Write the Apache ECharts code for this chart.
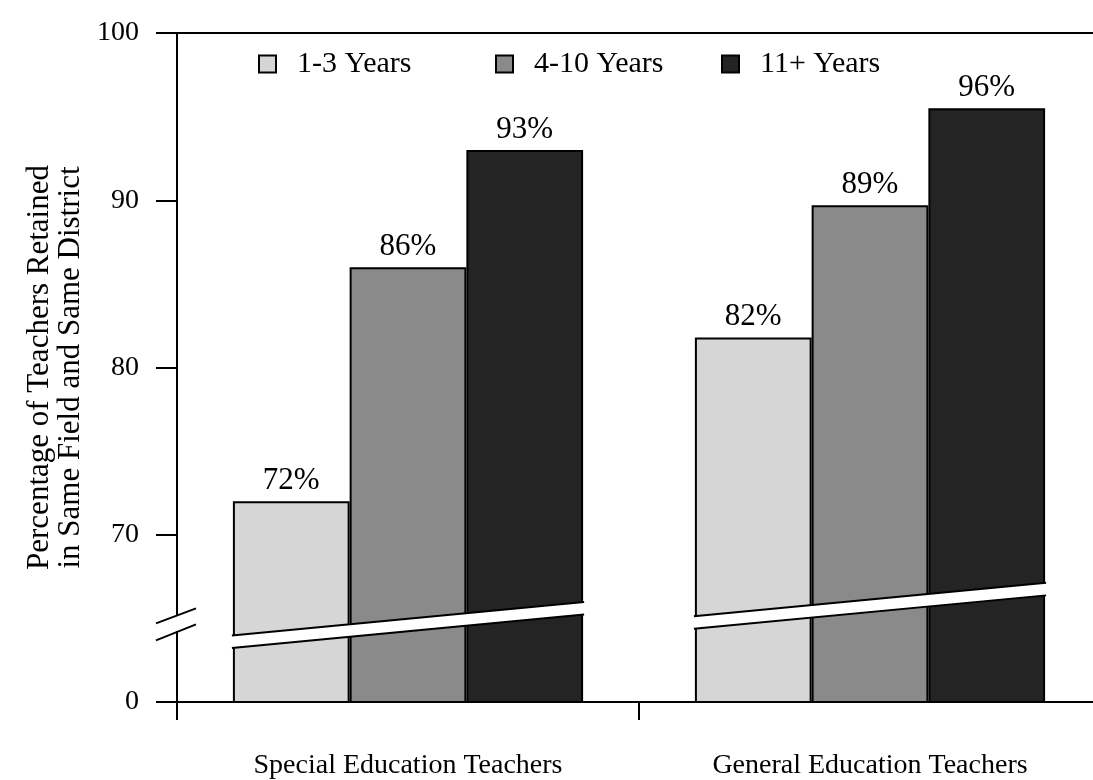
<!DOCTYPE html>
<html><head><meta charset="utf-8">
<script src="https://cdn.jsdelivr.net/npm/echarts@6/dist/echarts.min.js"></script>
<style>html,body{margin:0;padding:0;background:#fff;overflow:hidden;width:1093px;height:780px}#c{width:1101px;height:780px}</style>
</head><body><div id="c"></div>
<script>
// ---- data ----
const categories = ['Special Education Teachers', 'General Education Teachers'];
const seriesNames = ['1-3 Years', '4-10 Years', '11+ Years'];
const years1to3 = [72, 81.8];
const years4to10 = [86, 89.7];
const years11plus = [93, 95.5];
const labels1to3 = ['72%', '82%'];
const labels4to10 = ['86%', '89%'];
const labels11plus = ['93%', '96%'];
const yTickValues = [60, 70, 80, 90, 100];
const yTickLabels = ['0', '70', '80', '90', '100'];
// broken-scale band drawn across each bar group (value at group's left / right edge)
const breakLeft = [63.6, 64.75];
const breakRight = [65.6, 66.75];
const breakGap = 0.75;
const axisBreakValue = 64.7;

const FONT = '"Liberation Serif", "Times New Roman", serif';
const colors = ['#d6d6d6', '#8a8a8a', '#242424'];
const values = [years1to3, years4to10, years11plus];
const labelSets = [labels1to3, labels4to10, labels11plus];
const catGap = 0.242;

const chart = echarts.init(document.getElementById('c'));
const legendLeft = [253, 490, 716];

const option = {
  animation: false,
  backgroundColor: '#fff',
  grid: { left: 177, top: 33, right: 0, bottom: 73, containLabel: false },
  legend: seriesNames.map((n, i) => ({
    data: [n], left: legendLeft[i], top: 44, icon: 'rect',
    itemWidth: 17, itemHeight: 17,
    itemStyle: { borderColor: '#000', borderWidth: 2 },
    textStyle: { fontFamily: FONT, fontSize: 30, color: '#000', padding: [0, 0, 0, 16] }
  })),
  xAxis: [{
    type: 'category', data: categories, position: 'bottom',
    axisLine: { lineStyle: { color: '#000', width: 2 } },
    axisTick: { show: true, length: 18, lineStyle: { color: '#000', width: 2 } },
    axisLabel: { fontFamily: FONT, fontSize: 28, color: '#000', margin: 50 }
  }, {
    type: 'category', data: categories, position: 'top',
    axisLine: { lineStyle: { color: '#000', width: 2 } },
    axisTick: { show: false }, axisLabel: { show: false }
  }],
  yAxis: {
    type: 'value', min: 60, max: 100, interval: 10,
    name: 'Percentage of Teachers Retained\nin Same Field and Same District',
    nameLocation: 'middle', nameGap: 69,
    nameTextStyle: { fontFamily: FONT, fontSize: 31, color: '#000', lineHeight: 31 },
    axisLine: { show: true, lineStyle: { color: '#000', width: 2 } },
    axisTick: { show: true, length: 21, lineStyle: { color: '#000', width: 2 } },
    splitLine: { show: false },
    axisLabel: {
      fontFamily: FONT, fontSize: 28, color: '#000', margin: 38,
      formatter: v => yTickLabels[yTickValues.indexOf(v)]
    }
  },
  series: seriesNames.map((n, s) => ({
    name: n, type: 'bar', data: values[s],
    barGap: '0%', barCategoryGap: (catGap * 100) + '%',
    itemStyle: { color: colors[s], borderColor: '#000', borderWidth: 2 },
    label: {
      show: true, position: 'top', distance: 5,
      fontFamily: FONT, fontSize: 31, color: '#000',
      formatter: p => labelSets[s][p.dataIndex]
    }
  })).concat([{
    type: 'custom', z: 10, silent: true,
    data: categories.map((c, i) => [i, breakLeft[i], breakRight[i]]),
    renderItem(params, api) {
      const i = api.value(0);
      const center = api.coord([i, api.value(1)])[0];
      const band = api.size([1, 0])[0];
      const half = band * (1 - catGap) / 2;
      const yL = api.coord([i, api.value(1)])[1];
      const yR = api.coord([i, api.value(2)])[1];
      const t = api.size([0, breakGap])[1] / 2;
      const x0 = center - half, x1 = center + half;
      const k = (yR - yL) / (x1 - x0);
      return { type: 'group', children: [
        { type: 'polygon', shape: { points: [[x0 - 3, yL - t - 3 * k], [x1 + 3, yR - t + 3 * k], [x1 + 3, yR + t + 3 * k], [x0 - 3, yL + t - 3 * k]] }, style: { fill: '#fff' } },
        { type: 'line', shape: { x1: x0 - 1, y1: yL - t, x2: x1 + 1, y2: yR - t }, style: { stroke: '#000', lineWidth: 2 } },
        { type: 'line', shape: { x1: x0 - 1, y1: yL + t, x2: x1 + 1, y2: yR + t }, style: { stroke: '#000', lineWidth: 2 } }
      ]};
    }
  }])
};
chart.setOption(option);

// axis break marks on the value axis
const yb = chart.convertToPixel({ yAxisIndex: 0 }, axisBreakValue);
const xa = chart.convertToPixel({ xAxisIndex: 0 }, 0) - chart.getModel().getComponent('xAxis', 0).axis.getBandWidth() / 2;
chart.setOption({ graphic: [
  { type: 'rect', shape: { x: xa - 3, y: yb - 8, width: 6, height: 16 }, style: { fill: '#fff' }, z: 100 },
  { type: 'line', shape: { x1: xa - 21, y1: yb + 0, x2: xa + 19, y2: yb - 15 }, style: { stroke: '#000', lineWidth: 2 }, z: 101 },
  { type: 'line', shape: { x1: xa - 21, y1: yb + 17, x2: xa + 19, y2: yb + 1 }, style: { stroke: '#000', lineWidth: 2 }, z: 101 }
]});
</script></body></html>
